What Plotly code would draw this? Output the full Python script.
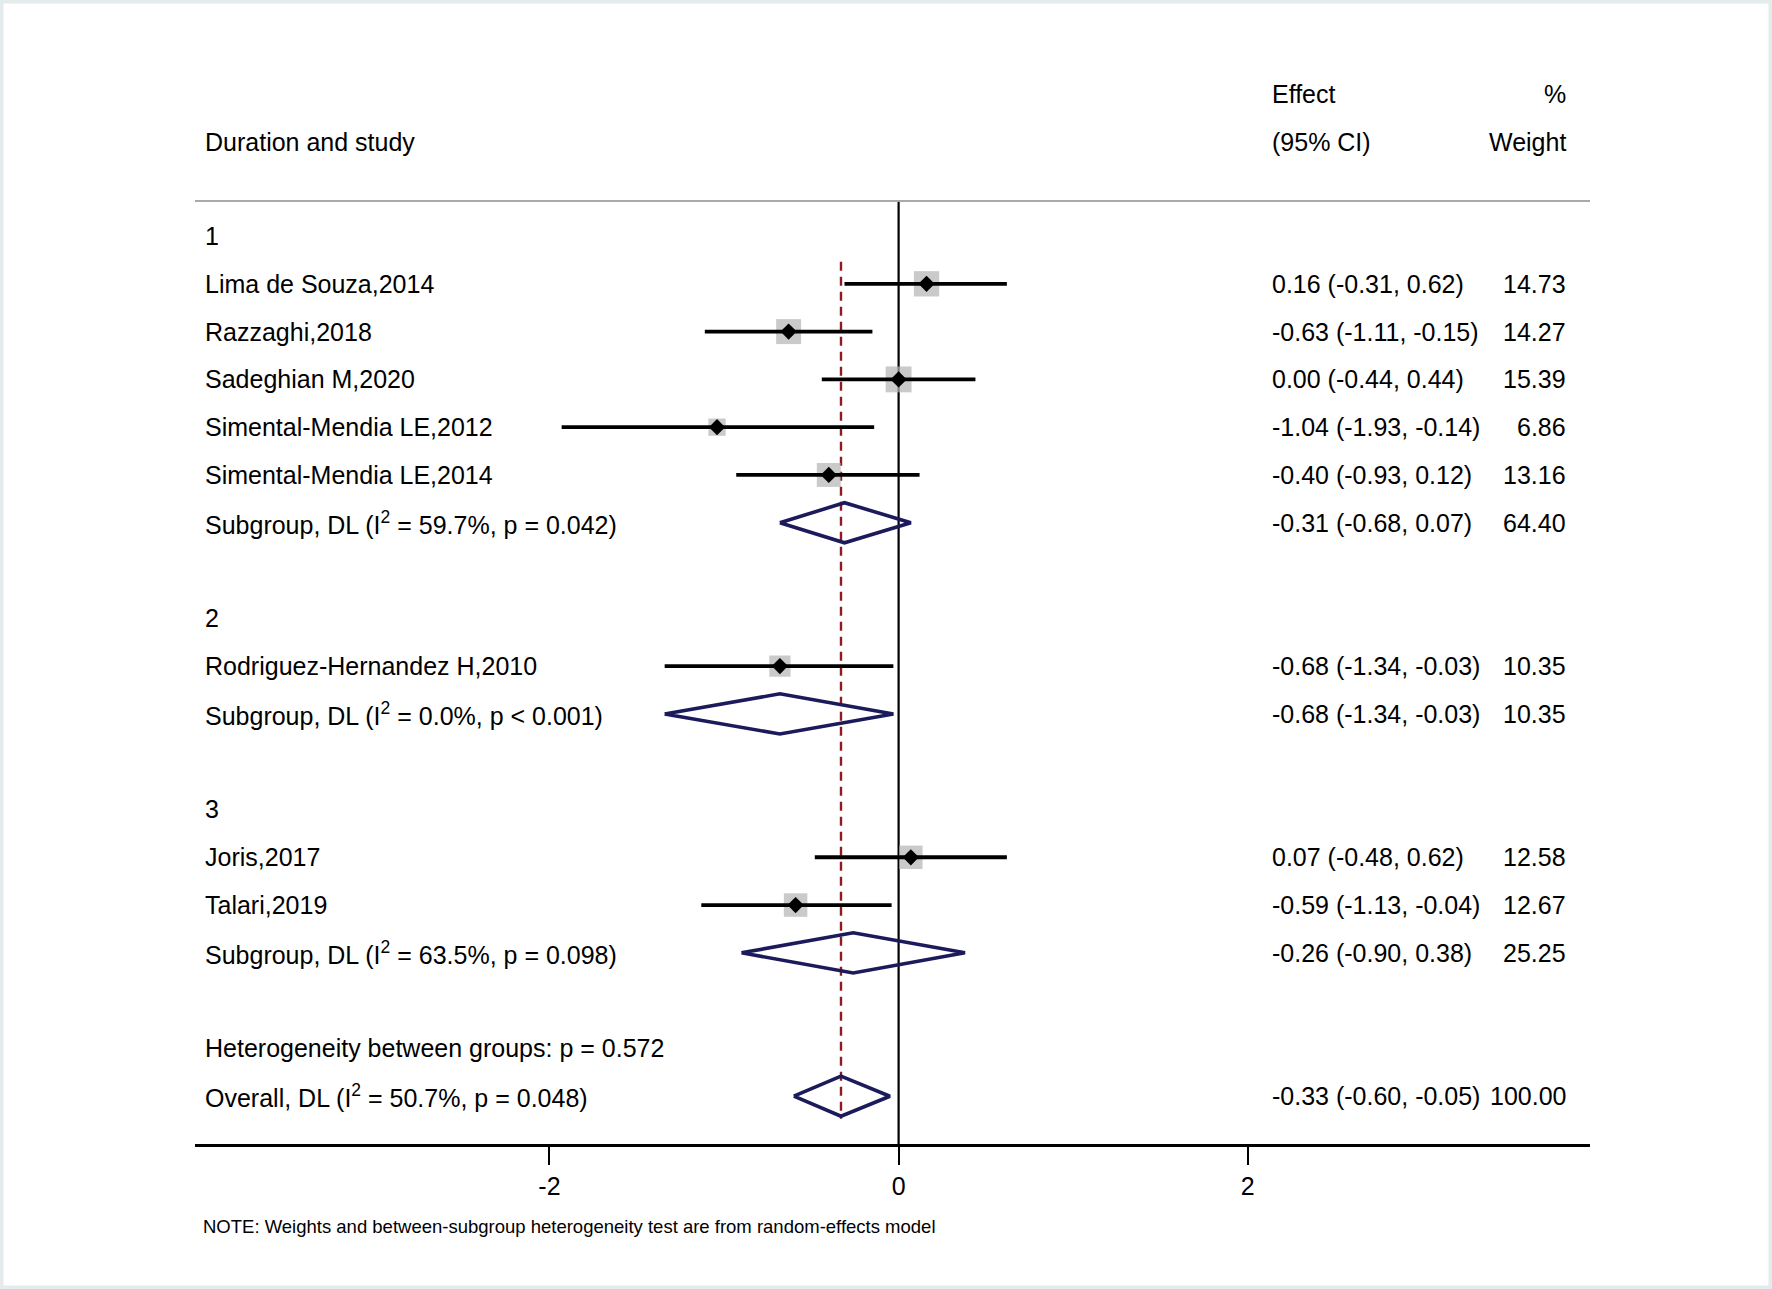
import plotly.graph_objects as go

# --- data ---
group_names = ["1", "2", "3"]

study_names = ["Lima de Souza,2014", "Razzaghi,2018", "Sadeghian M,2020",
               "Simental-Mendia LE,2012", "Simental-Mendia LE,2014",
               "Rodriguez-Hernandez H,2010",
               "Joris,2017", "Talari,2019"]
study_group = [0, 0, 0, 0, 0, 1, 2, 2]
study_est = [0.16, -0.63, 0.00, -1.04, -0.40, -0.68, 0.07, -0.59]
study_lo = [-0.31, -1.11, -0.44, -1.93, -0.93, -1.34, -0.48, -1.13]
study_hi = [0.62, -0.15, 0.44, -0.14, 0.12, -0.03, 0.62, -0.04]
study_wt = [14.73, 14.27, 15.39, 6.86, 13.16, 10.35, 12.58, 12.67]

sub_i2 = ["59.7%", "0.0%", "63.5%"]
sub_p = ["p = 0.042", "p < 0.001", "p = 0.098"]
sub_est = [-0.31, -0.68, -0.26]
sub_lo = [-0.68, -1.34, -0.90]
sub_hi = [0.07, -0.03, 0.38]
sub_wt = [64.40, 10.35, 25.25]

het_p = "0.572"
overall_i2 = "50.7%"
overall_p = "p = 0.048"
overall_est = -0.33
overall_lo = -0.60
overall_hi = -0.05
overall_wt = 100.00

x_ticks = [-2, 0, 2]

#%% layout constants (pixels)
W, H = 1772, 1289
ML, MR, MT, MB = 195, 182, 201, 145
FONT = "Arial, Liberation Sans, sans-serif"
NAVY = "#1b1b5c"


def px_x(p):
    return (p - ML) / (W - ML - MR)


def px_y(p):
    return (H - MB - p) / (H - MT - MB)


#%% row bookkeeping
rows = []  # (row, label, effect text, weight text)
pt_y, sub_y = [], []
r = 0
for g, gname in enumerate(group_names):
    rows.append((r, gname, "", ""))
    r += 1
    for i, name in enumerate(study_names):
        if study_group[i] != g:
            continue
        rows.append((r, name, "%.2f (%.2f, %.2f)" % (study_est[i], study_lo[i], study_hi[i]),
                     "%.2f" % study_wt[i]))
        pt_y.append(r)
        r += 1
    rows.append((r, "Subgroup, DL (I<sup>2</sup> = %s, %s)" % (sub_i2[g], sub_p[g]),
                 "%.2f (%.2f, %.2f)" % (sub_est[g], sub_lo[g], sub_hi[g]), "%.2f" % sub_wt[g]))
    sub_y.append(r)
    r += 2
rows.append((r, "Heterogeneity between groups: p = " + het_p, "", ""))
r += 1
rows.append((r, "Overall, DL (I<sup>2</sup> = %s, %s)" % (overall_i2, overall_p),
             "%.2f (%.2f, %.2f)" % (overall_est, overall_lo, overall_hi), "%.2f" % overall_wt))
overall_y = r
y_bottom = r + 1
y_top = -0.733


def row_paper(row):
    return (y_bottom - row) / (y_bottom - y_top)


fig = go.Figure()

# weight boxes
fig.add_trace(go.Scatter(
    x=study_est, y=pt_y, mode="markers",
    marker=dict(symbol="square", color="#b3b3b3", size=[6.6 * w ** 0.5 for w in study_wt],
                line=dict(width=0)),
    hoverinfo="skip", showlegend=False))

# confidence intervals
ci_x, ci_y = [], []
for lo, hi, y in zip(study_lo, study_hi, pt_y):
    ci_x += [lo, hi, None]
    ci_y += [y, y, None]
fig.add_trace(go.Scatter(x=ci_x, y=ci_y, mode="lines", line=dict(color="black", width=3.8),
                         hoverinfo="skip", showlegend=False))

# point estimates
fig.add_trace(go.Scatter(
    x=study_est, y=pt_y, mode="markers",
    marker=dict(symbol="diamond", color="black", size=12.5, line=dict(width=0)),
    hoverinfo="skip", showlegend=False))

# pooled diamonds
h = 0.42
dx, dy = [], []
for e, lo, hi, y in zip(sub_est + [overall_est], sub_lo + [overall_lo],
                        sub_hi + [overall_hi], sub_y + [overall_y]):
    dx += [lo, e, hi, e, lo, None]
    dy += [y, y - h, y, y + h, y, None]
fig.add_trace(go.Scatter(x=dx, y=dy, mode="lines", line=dict(color=NAVY, width=3.6),
                         hoverinfo="skip", showlegend=False))

shapes = [
    # zero line
    dict(type="line", xref="x", yref="y", x0=0, x1=0, y0=y_top, y1=y_bottom,
         line=dict(color="black", width=2.2), layer="below"),
    # overall effect line
    dict(type="line", xref="x", yref="y", x0=overall_est, x1=overall_est, y0=0.54, y1=overall_y + 0.47,
         line=dict(color="#8c1c22", width=2.4, dash="9px,6px"), layer="below"),
    # header rule
    dict(type="line", xref="paper", yref="paper", x0=0, x1=1, y0=1, y1=1,
         line=dict(color="#a9a9a9", width=2)),
    # page frame
    dict(type="rect", xref="paper", yref="paper", x0=px_x(1.5), x1=px_x(W - 1.5),
         y0=px_y(H - 1.5), y1=px_y(1.5), line=dict(color="#e3ebed", width=4), layer="below"),
]

ann = []
xl, xe, xw = px_x(203), px_x(1270), px_x(1568)


def txt(x, row, s, anchor="left", size=25):
    ann.append(dict(x=x, y=row_paper(row), xref="paper", yref="paper", text=s, showarrow=False,
                    xanchor=anchor, yanchor="middle", font=dict(size=size, color="black", family=FONT)))


txt(xe, -2.98, "Effect")
txt(xw, -2.98, "%", "right")
txt(xl, -1.96, "Duration and study")
txt(xe, -1.96, "(95% CI)")
txt(xw, -1.96, "Weight", "right")
for row, label, eff, wt in rows:
    txt(xl, row, label)
    if eff:
        txt(xe, row, eff)
        txt(xw, row, wt, "right")
txt(px_x(201), y_bottom + 1.73,
    "NOTE: Weights and between-subgroup heterogeneity test are from random-effects model", size=18.5)

fig.update_layout(
    width=W, height=H,
    margin=dict(l=ML, r=MR, t=MT, b=MB),
    paper_bgcolor="white", plot_bgcolor="white",
    font=dict(family=FONT, color="black"),
    shapes=shapes, annotations=ann, showlegend=False,
    xaxis=dict(range=[-4.03, 3.96], tickvals=x_ticks, ticktext=[str(t) for t in x_ticks],
               showgrid=False, zeroline=False, showline=True, linecolor="black", linewidth=3,
               ticks="outside", ticklen=18, tickwidth=2, tickcolor="black",
               tickfont=dict(size=25, family=FONT, color="black")),
    yaxis=dict(range=[y_bottom, y_top], visible=False, showgrid=False, zeroline=False),
)

fig.write_html("out.html", config={"displayModeBar": False},
               post_script="document.body.style.margin='0';")
